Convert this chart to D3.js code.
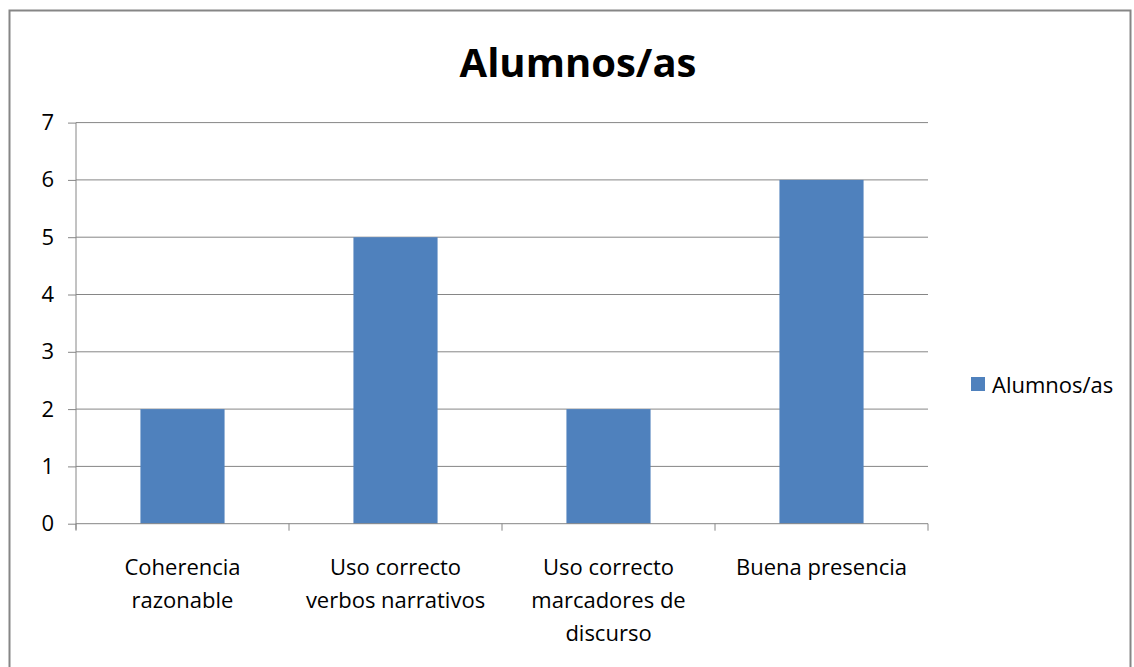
<!DOCTYPE html>
<html>
<head>
<meta charset="utf-8">
<script src="https://cdn.jsdelivr.net/npm/d3@7"></script>
<style>
  body { margin: 0; background: #fff; }
  text { font-family: "Open Sans", "Noto Sans", sans-serif; fill: #000; }
</style>
</head>
<body>
<div id="chart"></div>
<script>
const categories = [
  ["Coherencia", "razonable"],
  ["Uso correcto", "verbos narrativos"],
  ["Uso correcto", "marcadores de", "discurso"],
  ["Buena presencia"]
];
const values = [2, 5, 2, 6];
const yTicks = [0, 1, 2, 3, 4, 5, 6, 7];
const seriesName = "Alumnos/as";

const width = 1134, height = 667;
const margin = { top: 122.6, left: 76, right: 206, bottom: 143.3 };
const iwidth = width - margin.left - margin.right;
const iheight = height - margin.top - margin.bottom;

const svg = d3.select("#chart").append("svg")
  .attr("width", width)
  .attr("height", height);

// outer frame
svg.append("rect")
  .attr("x", 9.5).attr("y", 10.5)
  .attr("width", 1121).attr("height", 700)
  .attr("fill", "none")
  .attr("stroke", "#868686")
  .attr("stroke-width", 2);

svg.append("text")
  .attr("x", 578)
  .attr("y", 77)
  .attr("text-anchor", "middle")
  .style("font-size", "40px")
  .style("font-weight", "bold")
  .text(seriesName);

const g = svg.append("g").attr("transform", `translate(${margin.left},${margin.top})`);

const y = d3.scaleLinear().domain([0, 7]).range([iheight, 0]);
const x = d3.scaleBand().domain(d3.range(categories.length)).range([0, iwidth]).paddingInner(0.605).paddingOuter(0.3025);
const xb = d3.scaleBand().domain(d3.range(categories.length)).range([0, iwidth]);

// gridlines
g.append("g")
  .selectAll("line")
  .data(yTicks.slice(1))
  .join("line")
  .attr("x1", 0).attr("x2", iwidth)
  .attr("y1", d => y(d)).attr("y2", d => y(d))
  .attr("stroke", "#868686")
  .attr("stroke-width", 1);

g.selectAll("rect.bar")
  .data(values)
  .join("rect")
  .attr("class", "bar")
  .attr("x", (d, i) => x(i))
  .attr("y", d => y(d))
  .attr("width", x.bandwidth())
  .attr("height", d => iheight - y(d))
  .attr("fill", "#4f81bd");

// y axis
const yAxis = g.append("g")
  .call(d3.axisLeft(y).tickValues(yTicks).tickSize(8).tickPadding(14).tickFormat(d3.format("d")));
yAxis.selectAll("line, path").attr("stroke", "#868686");
yAxis.select(".domain").attr("d", `M0,${iheight + 6}V0`);
yAxis.selectAll("text").style("font-size", "22px").attr("fill", "#000");

// x axis
const xAxis = g.append("g").attr("transform", `translate(0,${iheight})`);
xAxis.append("line")
  .attr("x1", 0).attr("x2", iwidth)
  .attr("stroke", "#868686");
xAxis.selectAll("line.tick")
  .data(d3.range(categories.length + 1))
  .join("line")
  .attr("class", "tick")
  .attr("x1", d => d * xb.bandwidth()).attr("x2", d => d * xb.bandwidth())
  .attr("y1", 0).attr("y2", 7)
  .attr("stroke", "#868686");

xAxis.selectAll("text.lbl")
  .data(categories)
  .join("text")
  .attr("class", "lbl")
  .attr("text-anchor", "middle")
  .attr("transform", (d, i) => `translate(${xb(i) + xb.bandwidth() / 2},0)`)
  .style("font-size", "22px")
  .selectAll("tspan")
  .data(d => d)
  .join("tspan")
  .attr("x", 0)
  .attr("y", (d, i) => 51 + i * 33)
  .text(d => d);

// legend
const legend = svg.append("g").attr("transform", "translate(971,377)");
legend.append("rect").attr("width", 14).attr("height", 14).attr("fill", "#4f81bd");
legend.append("text").attr("x", 21).attr("y", 16).style("font-size", "22px").text(seriesName);
</script>
</body>
</html>
